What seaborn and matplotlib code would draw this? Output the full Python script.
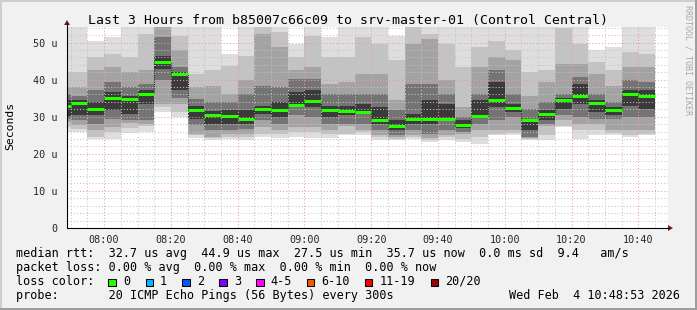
import matplotlib
matplotlib.use("Agg")
import matplotlib.pyplot as plt
import seaborn as sns
import pandas as pd
from matplotlib.patches import Rectangle, Polygon
from matplotlib.lines import Line2D

# ---------------- data ----------------
bin_times = ["07:45", "07:50", "07:55", "08:00", "08:05", "08:10", "08:15", "08:20", "08:25",
             "08:30", "08:35", "08:40", "08:45", "08:50", "08:55", "09:00", "09:05", "09:10",
             "09:15", "09:20", "09:25", "09:30", "09:35", "09:40", "09:45", "09:50", "09:55",
             "10:00", "10:05", "10:10", "10:15", "10:20", "10:25", "10:30", "10:35", "10:40"]

median_us = [32.8, 33.75, 32.1, 35.1, 34.8, 36.2, 44.8, 41.6, 31.9, 30.6, 30.1, 29.4, 32.1,
             31.9, 33.3, 34.3, 31.9, 31.6, 31.3, 29.0, 27.6, 29.4, 29.4, 29.4, 27.9, 30.2,
             34.6, 32.4, 29.0, 30.8, 34.6, 35.5, 33.75, 31.9, 36.2, 35.6]

# smoke bands (outer -> inner), low / high edge of each band
smoke1_lo = [25.9, 25.9, 24.0, 24.1, 25.6, 26.0, 31.3, 29.9, 24.2, 23.8, 24.0, 23.6, 24.6, 24.2,
             24.6, 24.2, 24.2, 25.0, 25.0, 23.6, 23.6, 24.0, 23.2, 23.6, 23.2, 22.7, 25.0, 25.0,
             23.6, 23.6, 27.2, 24.1, 25.0, 25.0, 24.5, 25.0]
smoke1_hi = [56, 56, 50.5, 51.5, 56, 56, 56, 56, 56, 56, 47.0, 56, 56, 56, 49.6, 56, 51.5, 56,
             56, 56, 51.9, 56, 56, 56, 56, 56, 56, 56, 56, 56, 56, 56, 48.0, 48.8, 56, 56]
smoke2_lo = [27.2, 26.8, 24.5, 26.0, 27.0, 27.5, 32.5, 31.2, 25.0, 24.3, 24.6, 24.5, 25.4, 25.3,
             26.0, 26.0, 25.3, 25.4, 25.8, 24.5, 24.0, 24.5, 23.6, 24.5, 24.1, 24.5, 25.4, 25.5,
             23.9, 25.0, 27.5, 26.5, 26.3, 25.5, 25.0, 25.3]
smoke2_hi = [42.0, 42.0, 46.0, 47.0, 46.0, 52.3, 56, 51.9, 41.6, 42.5, 43.8, 46.5, 56, 52.8,
             46.0, 51.9, 46.0, 46.0, 51.5, 49.6, 45.2, 56, 52.3, 49.6, 43.4, 48.8, 50.5, 47.9,
             42.0, 42.5, 54.0, 49.6, 44.7, 42.5, 47.4, 47.0]
smoke3_lo = [28.5, 27.65, 26.3, 27.2, 28.2, 28.1, 33.5, 33.5, 25.4, 24.5, 25.4, 25.4, 27.2, 26.3,
             27.2, 27.2, 26.3, 27.5, 26.3, 25.0, 24.5, 25.0, 24.2, 25.0, 25.4, 26.3, 26.3, 26.3,
             24.2, 27.5, 29.0, 28.1, 28.1, 26.3, 26.3, 26.3]
smoke3_hi = [38.0, 38.0, 42.5, 43.4, 42.0, 42.5, 56, 47.9, 38.0, 38.4, 36.2, 39.8, 52.3, 48.8,
             42.5, 43.4, 38.9, 39.3, 41.6, 41.6, 34.4, 49.6, 51.0, 39.8, 32.6, 43.4, 46.0, 45.2,
             35.7, 39.3, 44.3, 44.3, 41.6, 38.4, 43.4, 43.4]
smoke4_lo = [29.5, 29.0, 28.1, 29.45, 29.0, 29.0, 39.8, 35.0, 27.65, 26.3, 26.3, 26.75, 29.0, 28.1,
             30.35, 29.9, 28.1, 28.1, 28.1, 26.3, 25.0, 26.3, 25.4, 26.3, 26.0, 28.1, 29.0, 29.9,
             24.5, 28.1, 30.35, 29.9, 29.45, 29.5, 29.9, 29.9]
smoke4_hi = [36.0, 35.7, 37.1, 39.3, 38.0, 38.9, 51.45, 43.4, 34.8, 33.9, 33.9, 36.2, 38.4, 38.0,
             40.2, 40.2, 36.2, 36.2, 36.2, 36.2, 31.7, 38.9, 38.9, 36.2, 29.9, 36.2, 42.5, 36.2,
             32.1, 33.9, 36.2, 40.7, 36.2, 33.9, 39.8, 39.3]
smoke5_lo = [30.3, 30.35, 30.35, 31.7, 30.8, 33.5, 42.9, 37.1, 29.45, 28.1, 28.1, 28.1, 30.8, 29.9,
             32.6, 32.6, 29.9, 30.35, 30.8, 28.1, 26.3, 28.1, 28.1, 29.0, 27.0, 29.9, 32.6, 31.2,
             26.3, 29.0, 32.1, 33.5, 31.2, 30.35, 33.0, 32.1]
smoke5_hi = [34.5, 34.4, 33.9, 36.6, 35.7, 37.1, 46.5, 42.2, 33.0, 31.5, 31.7, 31.7, 33.0, 33.9,
             36.6, 37.1, 33.0, 33.0, 33.5, 32.6, 29.0, 30.8, 34.4, 33.5, 29.0, 34.4, 39.3, 33.5,
             29.5, 31.7, 35.0, 38.9, 34.4, 32.6, 37.1, 37.1]

y_ticks = [0, 10, 20, 30, 40, 50]
x_tick_labels = ["08:00", "08:20", "08:40", "09:00", "09:20", "09:40", "10:00", "10:20", "10:40"]

title = "Last 3 Hours from b85007c66c09 to srv-master-01 (Control Central)"
legend_rows = [
    "median rtt:  32.7 us avg  44.9 us max  27.5 us min  35.7 us now  0.0 ms sd  9.4   am/s",
    "packet loss: 0.00 % avg  0.00 % max  0.00 % min  0.00 % now",
    "loss color:",
    "probe:       20 ICMP Echo Pings (56 Bytes) every 300s",
]
loss_labels = ["0", "1", "2", "3", "4-5", "6-10", "11-19", "20/20"]
loss_colors = ["#26ff00", "#00b8ff", "#0059ff", "#7e00ff", "#ff00ff", "#ff5500", "#ff0000", "#a10000"]
date_text = "Wed Feb  4 10:48:53 2026"


def to_min(s):
    h, m = s.split(":")
    return int(h) * 60 + int(m)


x_start = [to_min(t) for t in bin_times]

# ---------------- style ----------------
sns.set_theme(style="white")
plt.rcParams["font.family"] = ["DejaVu Sans Mono"]
plt.rcParams["text.color"] = "black"

W, H = 697, 310
fig = plt.figure(figsize=(W / 100, H / 100), dpi=100, facecolor="#f1f1f1")


def fx(x):
    return x / W


def fy(y):
    return 1 - y / H


ax = fig.add_axes([fx(67), fy(228), (668 - 67) / W, (228 - 27) / H])
ax.set_facecolor("white")

# smoke
bands = [(smoke1_lo, smoke1_hi, "#dedede"), (smoke2_lo, smoke2_hi, "#c3c3c3"),
         (smoke3_lo, smoke3_hi, "#a3a3a3"), (smoke4_lo, smoke4_hi, "#747474"),
         (smoke5_lo, smoke5_hi, "#3a3a3a")]
for lo, hi, c in bands:
    ax.bar(x_start, [h - l for l, h in zip(lo, hi)], bottom=lo, width=5, align="edge",
           color=c, linewidth=0, zorder=1)

# median connector (dotted step line)
df = pd.DataFrame({"t": x_start + [x_start[-1] + 5], "rtt": median_us + [median_us[-1]]})
sns.lineplot(data=df, x="t", y="rtt", ax=ax, drawstyle="steps-post", color="#202020",
             linewidth=0.8, linestyle=(0, (1, 1)), zorder=3)
# median (loss colour = 0)
ax.hlines(median_us, x_start, [x + 5 for x in x_start], color=loss_colors[0], linewidth=2.2,
          zorder=4)

# limits and ticks
t0 = 468 + 53 / 60
ax.set_xlim(t0, t0 + 180)
ax.set_ylim(0, 54.2)
ax.set_xlabel("")
ax.set_ylabel("")
ax.set_yticks(y_ticks)
ax.set_yticklabels(["0" if v == 0 else f"{v} u" for v in y_ticks])
ax.set_yticks(list(range(0, 55, 2)), minor=True)
ax.set_xticks([to_min(s) for s in x_tick_labels])
ax.set_xticklabels(x_tick_labels)
ax.set_xticks(list(range(470, 649, 5)), minor=True)
ax.tick_params(which="major", length=3, width=0.7, color="black", direction="out", pad=2,
               labelsize=7.3)
ax.tick_params(which="minor", length=1.5, width=0.7, color="black", direction="out")
ax.tick_params(axis="y", which="major", pad=4)

ax.set_axisbelow(False)
ax.grid(which="minor", color="#c4c4c4", linestyle=(0, (1, 2)), linewidth=0.75)
ax.grid(which="major", color="#f09a9a", linestyle=(0, (1, 2)), linewidth=0.75)

for s in ["top", "right"]:
    ax.spines[s].set_visible(False)
for s in ["left", "bottom"]:
    ax.spines[s].set_color("black")
    ax.spines[s].set_linewidth(0.75)
    ax.spines[s].set_zorder(5)

# axis arrows
fig.add_artist(Line2D([fx(67), fx(67)], [fy(228), fy(23)], color="black", lw=0.75))
fig.add_artist(Line2D([fx(67), fx(669)], [fy(228), fy(228)], color="black", lw=0.75))
fig.add_artist(Polygon([(fx(64), fy(25)), (fx(70), fy(25)), (fx(67), fy(20))],
                       closed=True, color="#7f1f1f", lw=0))
fig.add_artist(Polygon([(fx(668), fy(225)), (fx(668), fy(231)), (fx(673), fy(228))],
                       closed=True, color="#7f1f1f", lw=0))

# titles / labels
fig.text(fx(347.5), fy(24), title, ha="center", va="baseline", fontsize=9.55)
fig.text(fx(10), fy(126), "Seconds", rotation=90, ha="center", va="center", fontsize=8.2)
fig.text(fx(688), fy(5), "RRDTOOL / TOBI OETIKER", rotation=270, ha="center", va="top",
         fontsize=6, color="#a8a8a8")

# legend
baselines = [257.3, 271.0, 285.0, 299.0]
for row, b in zip(legend_rows, baselines):
    fig.text(fx(16), fy(b), row, ha="left", va="baseline", fontsize=8.5)
fig.text(fx(680), fy(299), date_text, ha="right", va="baseline", fontsize=8.5)

box_x = [108.3, 145.7, 182.3, 219.3, 256.3, 307.0, 365.0, 430.7]
lab_x = [123.0, 160.0, 196.7, 234.0, 270.7, 321.0, 379.5, 445.5]
for bx, lx, lab, col in zip(box_x, lab_x, loss_labels, loss_colors):
    fig.add_artist(Rectangle((fx(bx), fy(286.3)), 7.4 / W, 7.4 / H, facecolor=col,
                             edgecolor="black", linewidth=0.75))
    fig.text(fx(lx), fy(285), lab, ha="left", va="baseline", fontsize=8.5)

# frame shading
fig.add_artist(Rectangle((0, 1 - 2 / H), 1, 2 / H, color="#cfcfcf", lw=0))
fig.add_artist(Rectangle((0, 0), 2 / W, 1, color="#cfcfcf", lw=0))
fig.add_artist(Rectangle((0, 0), 1, 2 / H, color="#9e9e9e", lw=0))
fig.add_artist(Rectangle((1 - 2 / W, 0), 2 / W, 1, color="#9e9e9e", lw=0))

fig.savefig("out.png", dpi=100, facecolor=fig.get_facecolor())
